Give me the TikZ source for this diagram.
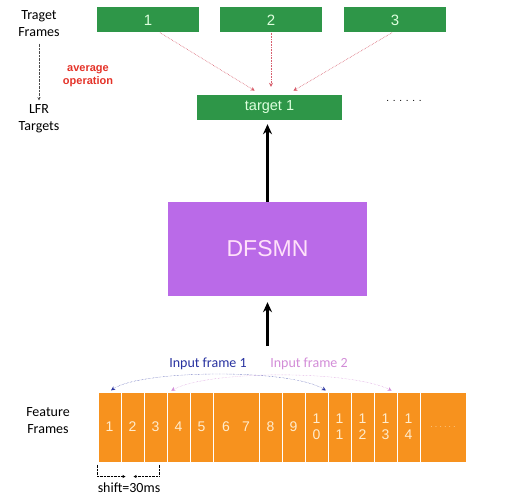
\documentclass[tikz,border=0pt]{standalone}
\usepackage{fontspec}
\setmainfont{Liberation Sans}
\newfontfamily\lblfont{Carlito}
\usetikzlibrary{arrows.meta, calc}

\definecolor{boxgreen}{RGB}{46,150,72}
\definecolor{boxtext}{RGB}{222,255,222}
\definecolor{dfsmnpurple}{RGB}{186,106,232}
\definecolor{dfsmntext}{RGB}{255,225,250}
\definecolor{frameorange}{RGB}{247,146,30}
\definecolor{frametext}{RGB}{255,236,205}
\definecolor{avgred}{RGB}{228,50,40}
\definecolor{avgline}{RGB}{215,95,110}
\definecolor{inblue}{RGB}{40,50,160}
\definecolor{inpink}{RGB}{210,140,215}

\tikzset{
  tgtbox/.style={fill=boxgreen, text=boxtext, minimum width=102pt,
    minimum height=25pt, inner sep=0pt, font=\fontsize{15}{15}\selectfont},
  featbox/.style={fill=frameorange, draw=white, line width=1pt,
    minimum width=23pt, minimum height=70pt, inner sep=0pt, text=frametext,
    align=center, font=\fontsize{14}{16}\selectfont},
  sidelbl/.style={align=center, font=\lblfont\fontsize{14}{17}\selectfont},
  avgarrow/.style={avgline, densely dotted, semithick, shorten >=8pt,
    -{Stealth[length=4pt, width=4pt, fill=avgred]}},
  bigarrow/.style={line width=2.5pt, -{Stealth[length=10pt, width=9pt]}},
  inarc/.style={densely dotted, thin, shorten <=2pt, shorten >=2pt,
    {Stealth[length=4pt, width=4pt]}-{Stealth[length=4pt, width=4pt]}},
}

\begin{document}
\begin{tikzpicture}[x=1pt, y=-1pt, >={Stealth}]
    \useasboundingbox (0,0) rectangle (508,500);

    % Ziel-Frames oben
    \node[tgtbox] (tf1) at (148,20) {1};
    \node[tgtbox] (tf2) at (271,20) {2};
    \node[tgtbox] (tf3) at (395,20) {3};
    \node[tgtbox, minimum width=145pt, font=\fontsize{14.5}{15}\selectfont]
        (tg1) at (269.5,107.5) {target 1};
    \node[font=\fontsize{10}{10}\selectfont] (tgdots) at (404,101) {. . . . . .};

    % Mittelwert
    \draw[avgarrow] ([xshift=12pt]tf1.south) -- ([xshift=-8pt]tg1.north);
    \draw[avgarrow] (tf2.south) -- ([xshift=1.5pt]tg1.north);
    \draw[avgarrow] ([xshift=-3pt]tf3.south) -- ([xshift=17pt]tg1.north);
    \node[text=avgred, align=center, font=\bfseries\fontsize{11}{12.5}\selectfont]
        (avg) at (88,76) {average\\operation};

    % Beschriftung links
    \node[sidelbl] (tfl) at (39,24) {Traget\\Frames};
    \node[sidelbl] (lfr) at (39,119) {LFR\\Targets};
    \draw[densely dotted, gray!60!black, -{Stealth[length=3pt, width=3pt]},
        shorten <=3pt, shorten >=1pt] (tfl) -- (lfr);
    \node[sidelbl] (ffl) at (48,421) {Feature\\Frames};

    % Netz
    \node[fill=dfsmnpurple, minimum width=199pt, minimum height=94pt,
        text=dfsmntext, font=\fontsize{23}{23}\selectfont]
        (dfsmn) at (267.5,249) {DFSMN};
    \draw[bigarrow, shorten >=4pt] (dfsmn.north) -- (dfsmn.north |- tg1.south);
    \coordinate (inp) at (267.5,346);
    \draw[bigarrow, shorten >=6pt] (inp) -- (dfsmn.south);

    % Feature-Frames
    \foreach \lab [count=\i] in {1,...,5}
        \node[featbox] (f\i) at ({86.5+23*\i},427) {\lab};
    \node[featbox, minimum width=46pt] (f6) at (236,427) {6\hspace{12pt}7};
    \foreach \i/\lab in {8/8, 9/9, 10/{1\\0}, 11/{1\\1}, 12/{1\\2},
                         13/{1\\3}, 14/{1\\4}}
        \node[featbox] (f\i) at ({86.5+23*\i},427) {\lab};
    \node[featbox, minimum width=46pt, font=\fontsize{7}{7}\selectfont]
        (fdots) at (443,427) {. . . . . .};

    % Eingabefenster
    \draw[inarc, inpink] ([xshift=3pt]f4.north west)
        .. controls (210,370) and (350,370) .. ([xshift=-4pt]f13.north east);
    \draw[inarc, inblue] (f1.north)
        .. controls (140,370) and (290,368) .. (f11.north west);
    \node[font=\lblfont\fontsize{14}{14}\selectfont, text=inblue]
        (in1) at (208,364) {Input frame 1};
    \node[font=\lblfont\fontsize{14}{14}\selectfont, text=inpink]
        (in2) at (309,364) {Input frame 2};

    % Verschiebung
    \draw[densely dotted, -{Stealth[length=3pt, width=3pt]}]
        ([yshift=-2pt]f1.south west) -- ++(0,12) -- ++(28,0);
    \draw[densely dotted, -{Stealth[length=3pt, width=3pt]}]
        ([xshift=-8pt, yshift=-2pt]f3.south east) -- ++(0,12) -- ++(-26,0);
    \node[font=\lblfont\fontsize{14}{14}\selectfont] (shift) at (129,488)
        {shift=30ms};
\end{tikzpicture}
\end{document}
